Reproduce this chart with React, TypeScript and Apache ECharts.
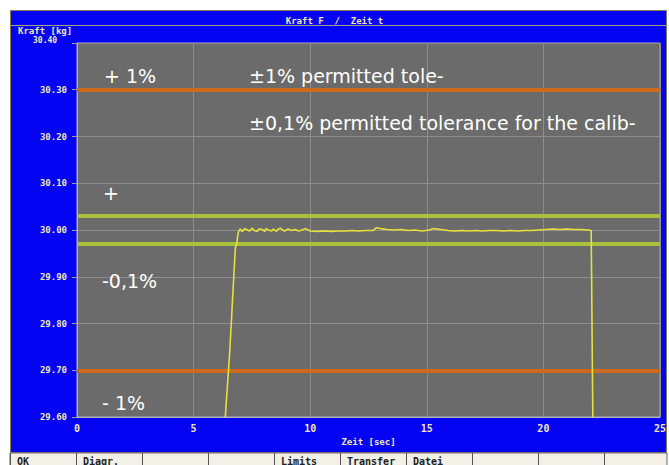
import React, { useEffect, useRef } from "react";
import * as echarts from "echarts";

// ---- data ----
const timeSec = [
  6.36, 6.55, 6.79, 6.85, 6.92, 7.0, 7.08, 7.2, 7.27, 7.4, 7.52, 7.6, 7.73, 7.8, 7.95, 8.05, 8.1, 8.22,
  8.35, 8.42, 8.55, 8.6, 8.72, 8.85, 8.9, 9.05, 9.2, 9.35, 9.5, 9.65, 9.8, 10.0, 10.3, 10.6, 10.9, 11.2,
  11.5, 11.8, 12.1, 12.4, 12.7, 12.85, 13.0, 13.3, 13.6, 13.9, 14.2, 14.5, 14.8, 15.1, 15.3, 15.6, 15.9,
  16.2, 16.5, 16.8, 17.1, 17.4, 17.7, 18.0, 18.3, 18.6, 18.9, 19.2, 19.5, 19.8, 20.1, 20.4, 20.7, 21.0,
  21.3, 21.6, 21.9, 22.05, 22.12,
];
const forceKg = [
  29.6, 29.74, 29.962, 29.972, 29.996, 30.002, 29.997, 30.003, 30.001, 29.998, 30.004, 29.999, 29.997,
  30.002, 30.001, 29.997, 30.003, 30.0, 29.998, 30.002, 29.997, 30.001, 30.004, 29.999, 29.998, 30.002,
  29.999, 30.001, 29.998, 30.0, 30.003, 29.998, 29.997, 29.998, 29.997, 29.998, 29.998, 29.999, 29.998,
  29.999, 29.999, 30.005, 30.003, 30.001, 30.0, 30.001, 29.999, 30.0, 29.998, 30.0, 30.003, 30.001,
  29.999, 29.998, 29.999, 29.998, 29.999, 29.998, 29.999, 29.999, 29.998, 29.999, 29.998, 29.999, 29.999,
  30.0, 30.001, 30.002, 30.001, 30.002, 30.001, 30.001, 30.0, 29.999, 29.6,
];
const yTickMin = 29.6;
const yTickMax = 30.4;
const yTickStep = 0.1;
const xTickMin = 0;
const xTickMax = 25;
const xTickStep = 5;
const limitOnePercent = [30.3, 29.7];
const limitTenthPercent = [30.03, 29.97];
const buttonLabels = ["OK", "Diagr.", "", "", "Limits", "Transfer", "Datei", "", "", ""];
const titleText = "Kraft F  /  Zeit t";
const yAxisTitle = "Kraft [kg]";
const xAxisTitle = "Zeit [sec]";
const annotations = [
  { text: "+ 1%", x: 104, y: 76 },
  { text: "±1% permitted tole-", x: 249, y: 76 },
  { text: "±0,1% permitted tolerance for the calib-", x: 249, y: 123 },
  { text: "+", x: 103, y: 193 },
  { text: "-0,1%", x: 102, y: 281 },
  { text: "- 1%", x: 102, y: 403 },
];

const BLUE = "#0404f2";
const CREAM = "#efe7b5";
const MONO = "'DejaVu Sans Mono', 'Liberation Mono', monospace";

export default function App() {
  const ref = useRef<HTMLDivElement>(null);
  useEffect(() => {
    if (!ref.current) return;
    const chart = echarts.init(ref.current, null, { renderer: "svg" });
    const signal = timeSec.map((t, i) => [t, forceKg[i]]);

    const graphics: any[] = [
      {
        type: "rect",
        z: -10,
        shape: { x: 10.5, y: 10.5, width: 656, height: 442 },
        style: { fill: BLUE, stroke: "#8a7a55", lineWidth: 1 },
      },
      {
        type: "line",
        z: -9,
        shape: { x1: 11, y1: 25.5, x2: 666, y2: 25.5 },
        style: { stroke: "#a89c8c", lineWidth: 1 },
      },
      {
        type: "text",
        left: 18,
        top: 26,
        style: { text: yAxisTitle, fill: CREAM, font: `bold 9px ${MONO}` },
      },
      {
        type: "text",
        left: 33,
        top: 36,
        style: { text: yTickMax.toFixed(2), fill: CREAM, font: `bold 8px ${MONO}` },
      },
      {
        type: "rect",
        shape: { x: 10, y: 453, width: 657, height: 14 },
        style: { fill: "#f3f0e8", stroke: "#6b6b6b", lineWidth: 1 },
      },
    ];
    buttonLabels.forEach((lab, i) => {
      const x = 10 + i * 66;
      graphics.push({
        type: "line",
        shape: { x1: x + 0.5, y1: 453, x2: x + 0.5, y2: 465 },
        style: { stroke: "#555", lineWidth: 1 },
      });
      if (lab) {
        graphics.push({
          type: "text",
          left: x + 7,
          top: 456,
          style: { text: lab, fill: "#222", font: `bold 10px ${MONO}` },
        });
      }
    });
    annotations.forEach((a) => {
      graphics.push({
        type: "text",
        x: a.x,
        y: a.y,
        z: 100,
        style: {
          text: a.text,
          fill: "#ffffff",
          font: "19px 'DejaVu Sans', Verdana, sans-serif",
          textVerticalAlign: "middle",
          verticalAlign: "middle",
        },
      });
    });

    chart.setOption({
      animation: false,
      backgroundColor: "#ffffff",
      title: {
        text: titleText,
        left: "center",
        top: 11,
        textStyle: { color: CREAM, fontFamily: MONO, fontWeight: "bold", fontSize: 9 },
      },
      grid: {
        left: 77,
        right: 9,
        top: 43,
        bottom: 48,
        show: true,
        backgroundColor: "#6b6b6b",
        borderColor: "#a9a9b8",
        borderWidth: 1,
      },
      xAxis: {
        type: "value",
        min: xTickMin,
        max: xTickMax,
        interval: xTickStep,
        name: xAxisTitle,
        nameLocation: "middle",
        nameGap: 19,
        nameTextStyle: { color: CREAM, fontFamily: MONO, fontWeight: "bold", fontSize: 9 },
        axisLine: { lineStyle: { color: "#b4b4c8", width: 1 } },
        axisTick: { show: false },
        axisLabel: { color: CREAM, fontFamily: MONO, fontWeight: "bold", fontSize: 10, margin: 6 },
        splitLine: { show: true, lineStyle: { color: "#8e8e8e", width: 1 } },
      },
      yAxis: {
        type: "value",
        min: yTickMin,
        max: yTickMax,
        interval: yTickStep,
        axisLine: { show: true, lineStyle: { color: "#b4b4c8", width: 1 } },
        axisTick: { show: true, length: 5, lineStyle: { color: "#9a9a9a" } },
        axisLabel: {
          color: CREAM,
          fontFamily: MONO,
          fontWeight: "bold",
          fontSize: 9,
          margin: 10,
          formatter: (v: number) => (Math.abs(v - yTickMax) < 1e-6 ? "" : v.toFixed(2)),
        },
        splitLine: { show: true, lineStyle: { color: "#8e8e8e", width: 1 } },
      },
      graphic: graphics,
      series: [
        {
          type: "line",
          data: [],
          markLine: {
            silent: true,
            symbol: "none",
            label: { show: false },
            lineStyle: { color: "#cf6a1c", width: 4, type: "solid" },
            data: limitOnePercent.map((v) => ({ yAxis: v })),
          },
        },
        {
          type: "line",
          data: [],
          markLine: {
            silent: true,
            symbol: "none",
            label: { show: false },
            lineStyle: { color: "#a8c23c", width: 4, type: "solid" },
            data: limitTenthPercent.map((v) => ({ yAxis: v })),
          },
        },
        {
          type: "line",
          data: signal,
          showSymbol: false,
          symbol: "none",
          lineStyle: { color: "#e6e23a", width: 1.6 },
          z: 5,
        },
      ],
    });
    return () => chart.dispose();
  }, []);
  return (
    <div
      ref={ref}
      style={{ position: "fixed", left: 0, top: 0, width: 669, height: 465, background: "#fff" }}
    />
  );
}
